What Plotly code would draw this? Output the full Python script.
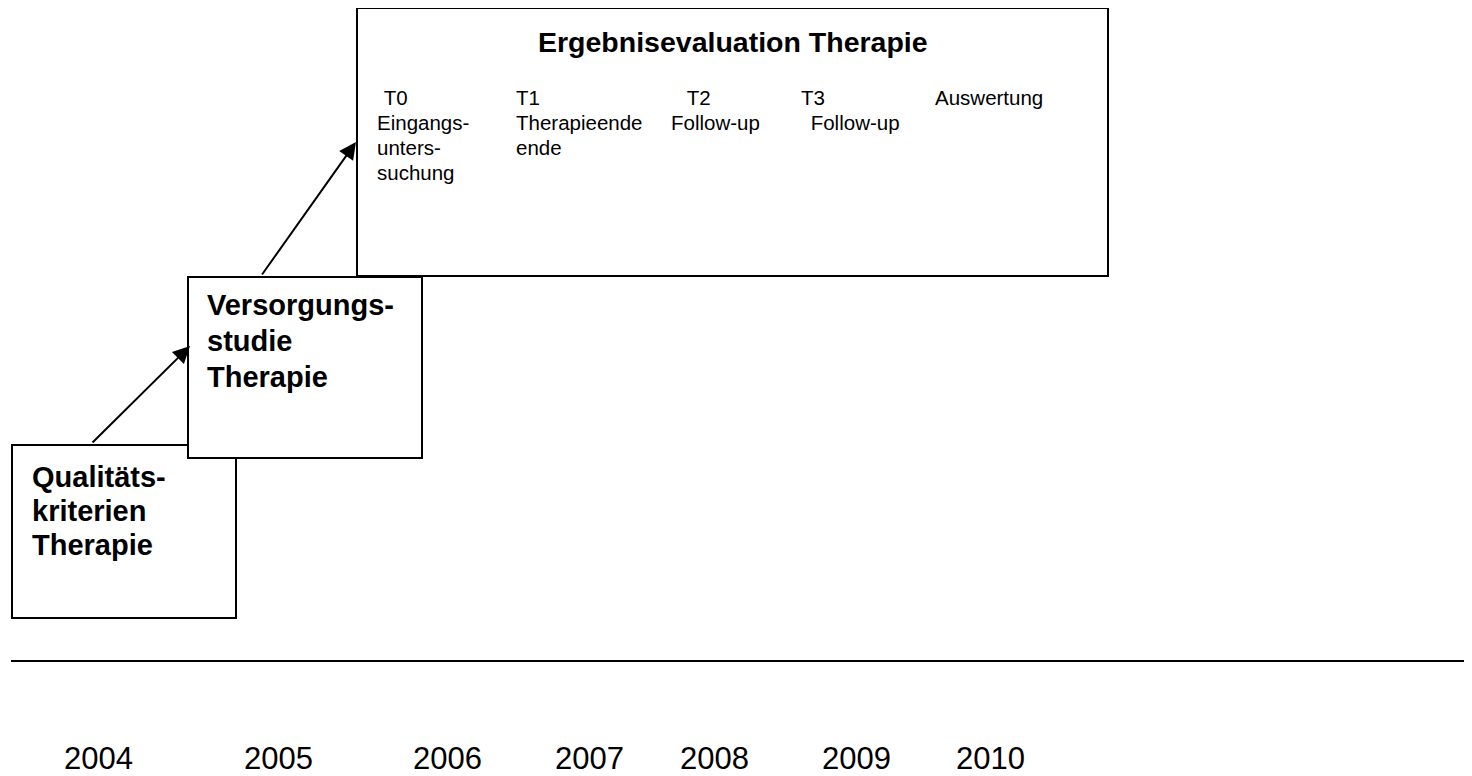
import plotly.graph_objects as go

W, H = 1472, 776
PAGE_OFFSET = 8  # default body margin of the html page
FONT = "Liberation Sans, Arial, sans-serif"

# ---- content ----
years = ["2004", "2005", "2006", "2007", "2008", "2009", "2010"]
year_x = [98, 278, 447, 589, 714, 856, 990]
year_y = 758

title_text = "Ergebnisevaluation Therapie"

# rows of small text inside the big box (one entry per line)
phase_lines = [" T0", "Eingangs-", "unters-", "suchung",
               "T1", "Therapieende", "ende",
               " T2", "Follow-up",
               "T3", " Follow-up",
               "Auswertung"]
phase_x = [376, 375, 375, 375,
           514, 514, 514,
           679, 669,
           799, 803,
           933]
phase_y = [97, 122, 147, 172,
           97, 122, 147,
           97, 122,
           97, 122,
           97]

versorgung_lines = ["Versorgungs-", "studie", "Therapie"]
versorgung_y = [305, 341, 377]
qualitaet_lines = ["Qualitäts-", "kriterien", "Therapie"]
qualitaet_y = [477, 511, 545]

# boxes: x0, y0, x1, y1
box_qual = (12, 445, 236, 618)
box_vers = (188, 277, 422, 458)
box_ergeb = (357, 8, 1108, 276)

# arrows: (tail x, tail y, head x, head y)
arrows = [(91, 444, 190, 346), (261, 276, 356, 142)]

timeline_y = 661

fig = go.Figure()
fig.add_trace(go.Scatter(x=[PAGE_OFFSET, W], y=[PAGE_OFFSET, H], mode="markers",
                         marker=dict(opacity=0), hoverinfo="skip", showlegend=False))

shapes = []
for b in (box_qual, box_vers, box_ergeb):
    shapes.append(dict(type="rect", xref="x", yref="y", x0=b[0], y0=b[1], x1=b[2], y1=b[3],
                       line=dict(color="black", width=2), fillcolor="white", layer="above"))
shapes.append(dict(type="line", xref="x", yref="y", x0=11, x1=W + 5, y0=timeline_y, y1=timeline_y,
                   line=dict(color="black", width=2.2)))

annotations = []
for (tx, ty, hx, hy) in arrows:
    annotations.append(dict(x=hx, y=hy, ax=tx, ay=ty, xref="x", yref="y", axref="x", ayref="y",
                            text="", showarrow=True, arrowhead=2, arrowsize=1.7, arrowwidth=2,
                            arrowcolor="black", standoff=0, startstandoff=0))

annotations.append(dict(x=(box_ergeb[0] + box_ergeb[2]) / 2, y=42, xref="x", yref="y",
                        text="<b>" + title_text + "</b>", showarrow=False,
                        xanchor="center", yanchor="middle",
                        font=dict(family=FONT, size=28.5, color="black")))

for t, x, y in zip(phase_lines, phase_x, phase_y):
    annotations.append(dict(x=x, y=y, xref="x", yref="y", text=t.replace(" ", "&nbsp;"),
                            showarrow=False, xanchor="left", yanchor="middle",
                            font=dict(family=FONT, size=20.5, color="black")))

for t, y in zip(versorgung_lines, versorgung_y):
    annotations.append(dict(x=205, y=y, xref="x", yref="y", text="<b>" + t + "</b>",
                            showarrow=False, xanchor="left", yanchor="middle",
                            font=dict(family=FONT, size=29, color="black")))

for t, y in zip(qualitaet_lines, qualitaet_y):
    annotations.append(dict(x=30, y=y, xref="x", yref="y", text="<b>" + t + "</b>",
                            showarrow=False, xanchor="left", yanchor="middle",
                            font=dict(family=FONT, size=29, color="black")))

for t, x in zip(years, year_x):
    annotations.append(dict(x=x, y=year_y, xref="x", yref="y", text=t,
                            showarrow=False, xanchor="center", yanchor="middle",
                            font=dict(family=FONT, size=31, color="black")))

fig.update_layout(
    width=W - PAGE_OFFSET, height=H - PAGE_OFFSET,
    margin=dict(l=0, r=0, t=0, b=0),
    paper_bgcolor="white", plot_bgcolor="white",
    xaxis=dict(range=[PAGE_OFFSET, W], visible=False, fixedrange=True),
    yaxis=dict(range=[H, PAGE_OFFSET], visible=False, fixedrange=True),
    shapes=shapes, annotations=annotations,
    showlegend=False,
)

fig.write_html("out.html", config={"displayModeBar": False})
